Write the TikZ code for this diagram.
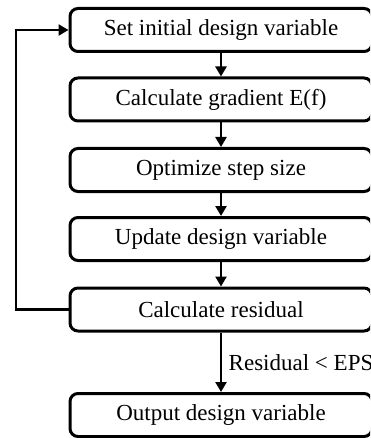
\documentclass[tikz,border=0pt]{standalone}
\usepackage{fontspec}
\setmainfont{Liberation Serif}
\usetikzlibrary{arrows.meta, positioning}

\tikzset{
    stepbox/.style={draw, line width=3pt, rounded corners=8pt, minimum width=302pt, minimum height=43pt, inner sep=0pt, font=\fontsize{23}{26}\selectfont},
    flow/.style={line width=2.8pt, -{Triangle[width=11pt, length=10pt]}}
}

\begin{document}
\begin{tikzpicture}[x=1pt, y=-1pt]
    \useasboundingbox (0,0) rectangle (370,438);
    \clip (0,0) rectangle (370,438);

    % 流程框
    \node[stepbox] (init) at (221,30) {Set initial design variable};
    \node[stepbox] (grad) at (221,99.5) {Calculate gradient E(f)};
    \node[stepbox] (size) at (221,170) {Optimize step size};
    \node[stepbox] (upd) at (221,239) {Update design variable};
    \node[stepbox] (res) at (221,309.5) {Calculate residual};
    \node[stepbox] (out) at (221,415) {Output design variable};

    % 箭头
    \draw[flow] (init) -- (grad);
    \draw[flow] (grad) -- (size);
    \draw[flow] (size) -- (upd);
    \draw[flow] (upd) -- (res);
    \draw[flow] (res) -- node[right=3pt, font=\fontsize{23}{26}\selectfont] {Residual < EPS} (out);

    % 回路
    \draw[flow] (res.west) -- (16,309.5) -- (16,30) -- (init.west);
\end{tikzpicture}
\end{document}
